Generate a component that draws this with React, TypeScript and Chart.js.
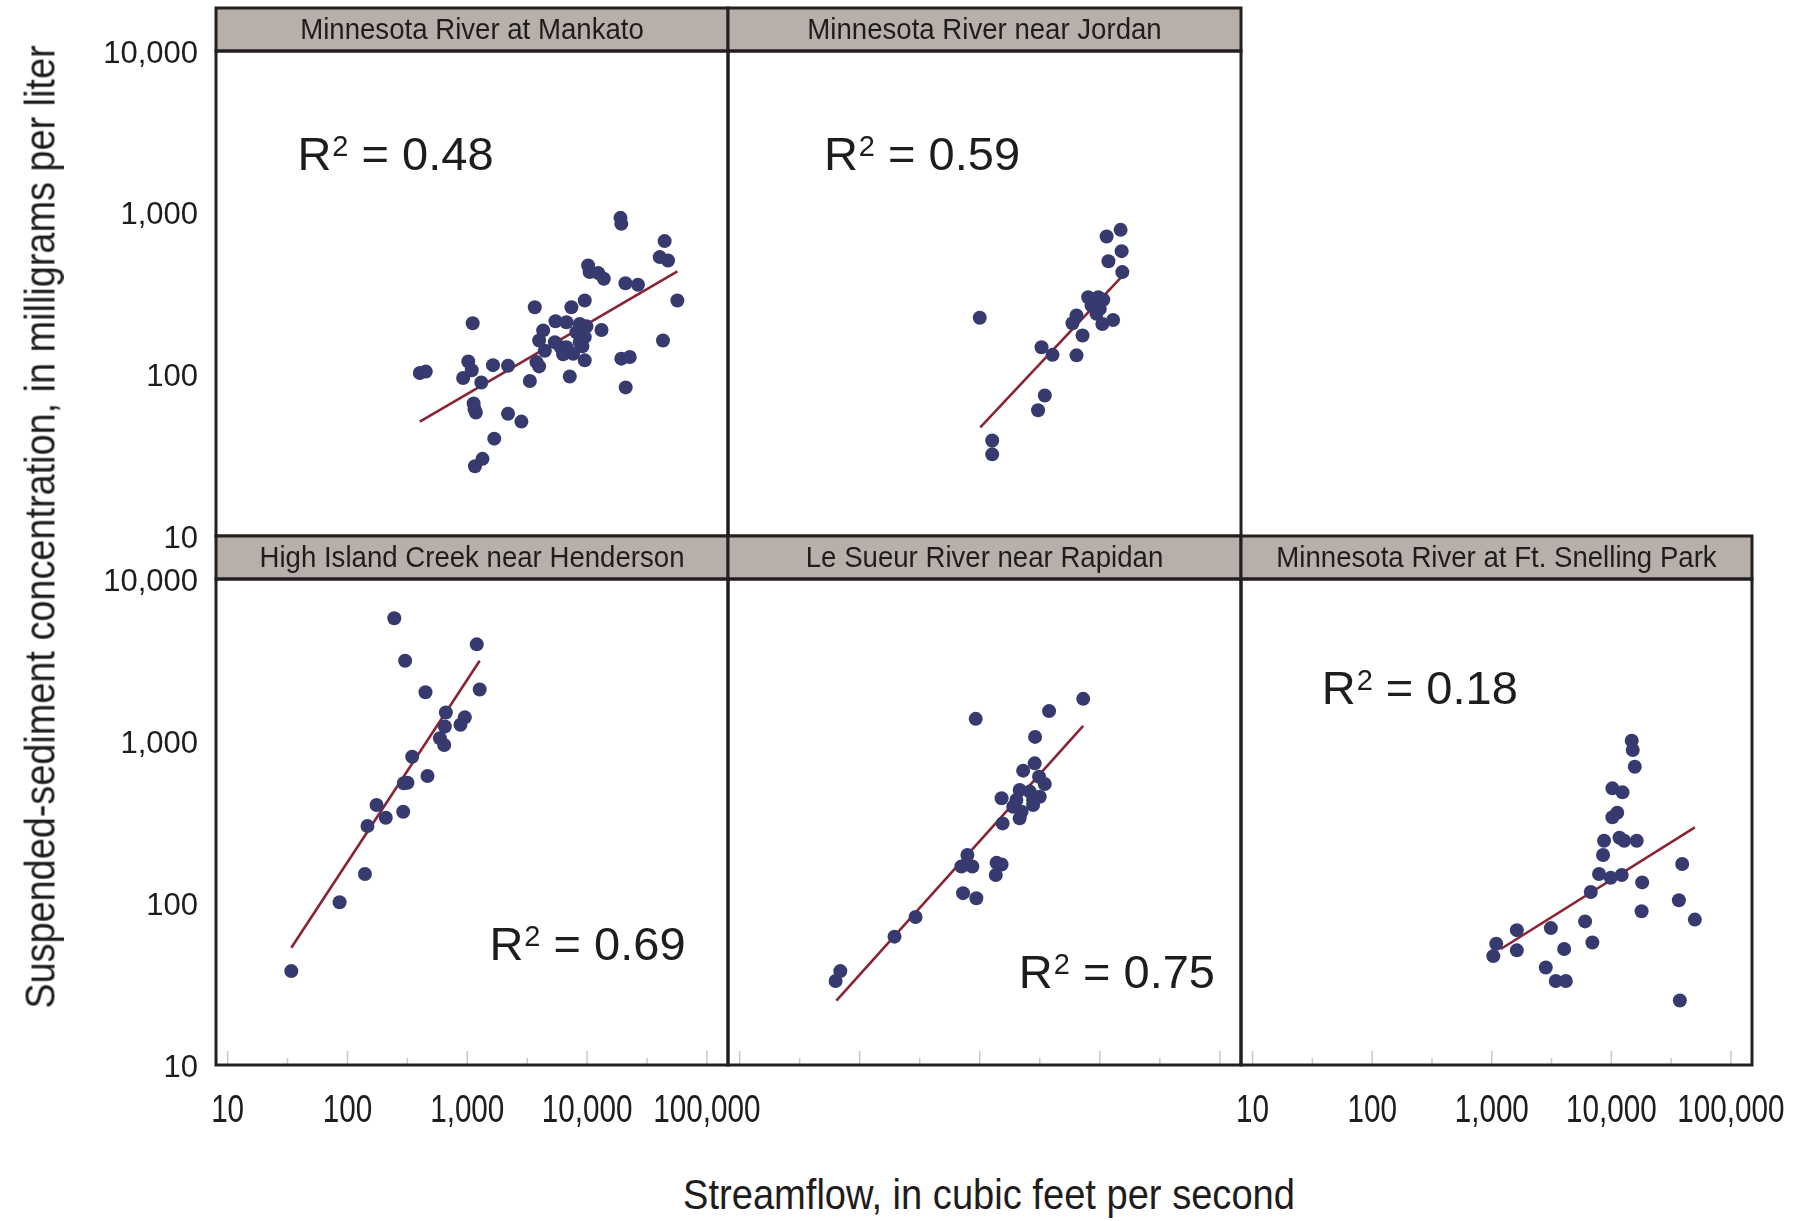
import React, { useEffect, useRef } from 'react';
import { Chart, registerables } from 'chart.js';

Chart.register(...registerables);

// ---------- axis ticks ----------
const Y_TICKS = [10, 100, 1000, 10000];
const X_TICKS = [10, 100, 1000, 10000, 100000];
const X_MIN = 8;
const X_MAX = 150000;
const Y_MIN = 10;
const Y_MAX = 10000;

// ---------- panel titles & R2 ----------
const PANEL_TITLES = [
  'Minnesota River at Mankato',
  'Minnesota River near Jordan',
  'High Island Creek near Henderson',
  'Le Sueur River near Rapidan',
  'Minnesota River at Ft. Snelling Park',
];
const R2_VALUES = ['0.48', '0.59', '0.69', '0.75', '0.18'];

// ---------- data: streamflow (cfs) and suspended-sediment concentration (mg/L) ----------
const MANKATO_FLOW = [19000, 19300, 44400, 40400, 47400, 10200, 10500, 12400, 13800, 20900, 26600, 56700, 3660, 9560, 7400, 1110, 5450, 6730, 8690, 9880, 13200, 8150, 4300, 3980, 4440, 5380, 6030, 6310, 7650, 9140, 9560, 9560, 6730, 8690, 43000, 19300, 22700, 402, 451, 1020, 1090, 924, 1310, 1640, 2190, 3780, 3980, 3330, 7170, 21000, 1130, 1180, 1150, 2190, 2830, 1680, 1160, 1340];
const MANKATO_SSC = [929, 853, 667, 531, 506, 471, 429, 423, 390, 366, 358, 286, 260, 286, 260, 207, 213, 210, 205, 198, 188, 182, 187, 162, 140, 158, 147, 133, 134, 149, 170, 122, 147, 158, 162, 125, 128, 102, 104, 120, 106, 95, 89, 114, 113, 119, 112, 91, 97, 83, 66, 58, 61, 57, 51, 40, 27, 30];
const MANKATO_FIT_FLOW = [402, 56700];
const MANKATO_FIT_SSC = [51, 433];

const JORDAN_FLOW = [1000, 11400, 14900, 15200, 11800, 15400, 8000, 9700, 10700, 8530, 10000, 9390, 6400, 5920, 10500, 12900, 7180, 3270, 4040, 6400, 3480, 3060, 1270, 1270];
const JORDAN_SSC = [224, 712, 783, 578, 501, 429, 300, 300, 289, 267, 254, 237, 231, 207, 205, 217, 174, 147, 132, 131, 74, 60, 39, 32];
const JORDAN_FIT_FLOW = [1010, 14900];
const JORDAN_FIT_SSC = [47, 395];

const HIGHISLAND_FLOW = [246, 1200, 303, 448, 1270, 663, 954, 878, 650, 591, 642, 347, 466, 296, 317, 292, 175, 209, 147, 140, 86, 34];
const HIGHISLAND_SSC = [5720, 3950, 3130, 2000, 2080, 1500, 1400, 1260, 1230, 1040, 945, 800, 608, 548, 553, 366, 403, 336, 299, 151, 101, 38];
const HIGHISLAND_FIT_FLOW = [34, 1270];
const HIGHISLAND_FIT_SSC = [53, 3130];

const LESUEUR_FLOW = [7270, 3780, 925, 2890, 2870, 2300, 3120, 3480, 2150, 2610, 3160, 1520, 2020, 2780, 1900, 2230, 2780, 2150, 1550, 789, 703, 868, 1380, 1520, 1360, 726, 937, 292, 195, 69, 63];
const LESUEUR_SSC = [1820, 1530, 1370, 1060, 728, 656, 602, 543, 498, 487, 453, 443, 432, 403, 393, 366, 432, 333, 310, 198, 168, 168, 177, 173, 149, 115, 107, 82, 62, 38, 33];
const LESUEUR_FIT_FLOW = [64, 7270];
const LESUEUR_FIT_SSC = [25, 1240];

const SNELLING_FLOW = [14800, 15100, 15700, 10200, 12400, 11200, 10200, 8690, 11700, 12800, 16300, 8520, 39100, 7890, 9880, 12200, 18100, 6730, 36700, 17900, 49900, 6030, 6940, 1620, 3120, 1090, 1030, 1620, 4030, 2830, 3430, 4160, 37400];
const SNELLING_SSC = [1005, 880, 694, 510, 482, 361, 338, 242, 253, 242, 242, 198, 174, 151, 143, 149, 134, 117, 104, 89, 79, 77, 57, 68, 70, 56, 47, 51, 52, 40, 33, 33, 25];
const SNELLING_FIT_FLOW = [1190, 49900];
const SNELLING_FIT_SSC = [52, 293];

const AXIS_Y_TITLE = 'Suspended-sediment concentration, in milligrams per liter';
const AXIS_X_TITLE = 'Streamflow, in cubic feet per second';

// ---------- styles ----------
const POINT_COLOR = '#363a6e';
const FIT_COLOR = '#8a2433';
const STRIP_COLOR = '#b8afab';
const FRAME_COLOR = '#231f20';
const TEXT_COLOR = '#1f1c1d';
const SANS = "'Liberation Sans', Arial, sans-serif";
const STRIP_H = 43;
const TOP_M = 6;
const TITLE_SIZE = 30;
const TITLE_SX = 0.92;
const XTICK_SIZE = 38;
const XTICK_SX = 0.78;
const XTICK_OFFSET = 47;
const R2_SIZE = 47;

// ---------- layout (canvas boxes in page pixels) ----------
const LAYOUT = [
  { left: 0, top: 8 - TOP_M, width: 738, height: 528 + TOP_M + 20, pad: { left: 0, top: STRIP_H + TOP_M, right: 10, bottom: 20 }, showY: true, showX: false, r2Pos: [0.159, 0.21], bottomTicks: false },
  { left: 718, top: 8 - TOP_M, width: 533, height: 528 + TOP_M + 10, pad: { left: 10, top: STRIP_H + TOP_M, right: 10, bottom: 10 }, showY: false, showX: false, r2Pos: [0.187, 0.21], bottomTicks: false },
  { left: 0, top: 536 - TOP_M, width: 790, height: 529 + TOP_M + 100, pad: { left: 0, top: STRIP_H + TOP_M, right: 62, bottom: 100 }, showY: true, showX: true, r2Pos: [0.534, 0.75], bottomTicks: true },
  { left: 718, top: 536 - TOP_M, width: 533, height: 529 + TOP_M + 10, pad: { left: 10, top: STRIP_H + TOP_M, right: 10, bottom: 10 }, showY: false, showX: false, r2Pos: [0.567, 0.807], bottomTicks: true },
  { left: 1211, top: 536 - TOP_M, width: 591, height: 529 + TOP_M + 100, pad: { left: 30, top: STRIP_H + TOP_M, right: 50, bottom: 100 }, showY: false, showX: true, r2Pos: [0.158, 0.223], bottomTicks: true },
];

const SERIES = [
  { flow: MANKATO_FLOW, ssc: MANKATO_SSC, fitFlow: MANKATO_FIT_FLOW, fitSsc: MANKATO_FIT_SSC },
  { flow: JORDAN_FLOW, ssc: JORDAN_SSC, fitFlow: JORDAN_FIT_FLOW, fitSsc: JORDAN_FIT_SSC },
  { flow: HIGHISLAND_FLOW, ssc: HIGHISLAND_SSC, fitFlow: HIGHISLAND_FIT_FLOW, fitSsc: HIGHISLAND_FIT_SSC },
  { flow: LESUEUR_FLOW, ssc: LESUEUR_SSC, fitFlow: LESUEUR_FIT_FLOW, fitSsc: LESUEUR_FIT_SSC },
  { flow: SNELLING_FLOW, ssc: SNELLING_SSC, fitFlow: SNELLING_FIT_FLOW, fitSsc: SNELLING_FIT_SSC },
];

const fmt = (v: number) => Number(v).toLocaleString('en-US');

function scaledText(ctx: CanvasRenderingContext2D, text: string, x: number, y: number, sx: number) {
  ctx.save();
  ctx.translate(x, y);
  ctx.scale(sx, 1);
  ctx.fillText(text, 0, 0);
  ctx.restore();
}

const panelDecor = {
  id: 'panelDecor',
  beforeDatasetsDraw(chart: any, _args: any, opts: any) {
    if (!opts.bottomTicks) return;
    const { ctx, chartArea: a, scales } = chart;
    const xs = scales.x;
    ctx.save();
    ctx.strokeStyle = '#c8c8c8';
    ctx.lineWidth = 1.5;
    for (let k = 1; k <= 5; k++) {
      const marks: [number, number][] = [[Math.pow(10, k), 14], [Math.pow(10, k + 0.5), 7]];
      for (const [v, len] of marks) {
        if (v < X_MIN || v > X_MAX) continue;
        const px = xs.getPixelForValue(v);
        ctx.beginPath();
        ctx.moveTo(px, a.bottom);
        ctx.lineTo(px, a.bottom - len);
        ctx.stroke();
      }
    }
    ctx.restore();
  },
  afterDraw(chart: any, _args: any, opts: any) {
    const { ctx, chartArea: a, scales } = chart;
    const w = a.right - a.left;
    ctx.save();
    ctx.fillStyle = STRIP_COLOR;
    ctx.fillRect(a.left, a.top - STRIP_H, w, STRIP_H);
    ctx.lineWidth = 3;
    ctx.strokeStyle = FRAME_COLOR;
    ctx.strokeRect(a.left, a.top - STRIP_H, w, STRIP_H);
    ctx.strokeRect(a.left, a.top, w, a.bottom - a.top);

    // panel title (condensed)
    ctx.fillStyle = TEXT_COLOR;
    ctx.font = `${TITLE_SIZE}px ${SANS}`;
    ctx.textAlign = 'center';
    ctx.textBaseline = 'middle';
    scaledText(ctx, opts.title, (a.left + a.right) / 2, a.top - STRIP_H / 2 + 1, TITLE_SX);

    // x tick labels (condensed), positioned by the log scale
    if (opts.showX) {
      ctx.font = `${XTICK_SIZE}px ${SANS}`;
      for (const v of X_TICKS) {
        const px = scales.x.getPixelForValue(v);
        scaledText(ctx, fmt(v), px, a.bottom + XTICK_OFFSET, XTICK_SX);
      }
    }

    // R-squared label
    const x0 = a.left + opts.r2Pos[0] * w;
    const yc = a.top + opts.r2Pos[1] * (a.bottom - a.top);
    const base = yc + (R2_SIZE * 0.716) / 2;
    ctx.textAlign = 'left';
    ctx.textBaseline = 'alphabetic';
    ctx.font = `${R2_SIZE}px ${SANS}`;
    ctx.fillText('R', x0, base);
    const wR = ctx.measureText('R').width;
    ctx.font = `${Math.round(R2_SIZE * 0.62)}px ${SANS}`;
    ctx.fillText('2', x0 + wR + 1, base - R2_SIZE * 0.716 * 0.42);
    const w2 = ctx.measureText('2').width;
    ctx.font = `${R2_SIZE}px ${SANS}`;
    ctx.fillText(' = ' + opts.r2, x0 + wR + 1 + w2, base);
    ctx.restore();
  },
};

function Panel({ index }: { index: number }) {
  const ref = useRef<HTMLCanvasElement | null>(null);
  const lay = LAYOUT[index];
  const s = SERIES[index];

  useEffect(() => {
    if (!ref.current) return;
    const points = s.flow.map((x, i) => ({ x, y: s.ssc[i] }));
    const fit = s.fitFlow.map((x, i) => ({ x, y: s.fitSsc[i] }));
    const yScale: any = {
      type: 'logarithmic',
      min: Y_MIN,
      max: Y_MAX,
      display: lay.showY,
      grid: { display: false, drawTicks: false },
      border: { display: false },
      afterBuildTicks: (sc: any) => {
        sc.ticks = Y_TICKS.map((v) => ({ value: v }));
      },
      ticks: {
        autoSkip: false,
        padding: 18,
        labelOffset: 3,
        color: TEXT_COLOR,
        font: { family: SANS, size: 31 },
        callback: (v: any) => fmt(v),
      },
    };
    if (lay.showY) {
      yScale.afterFit = (sc: any) => {
        sc.width = 216;
        sc.paddingTop = 0;
        sc.paddingBottom = 0;
      };
    }
    const chart = new Chart(ref.current, {
      type: 'scatter',
      data: {
        datasets: [
          {
            data: points,
            backgroundColor: POINT_COLOR,
            borderColor: POINT_COLOR,
            borderWidth: 0,
            pointRadius: 7,
            order: 0,
          },
          {
            data: fit,
            showLine: true,
            borderColor: FIT_COLOR,
            borderWidth: 2.6,
            pointRadius: 0,
            fill: false,
            order: 1,
          },
        ],
      },
      options: {
        responsive: false,
        animation: false,
        events: [],
        devicePixelRatio: 1,
        layout: { padding: lay.pad },
        plugins: {
          legend: { display: false },
          tooltip: { enabled: false },
          title: { display: false },
          panelDecor: { title: PANEL_TITLES[index], r2: R2_VALUES[index], r2Pos: lay.r2Pos, bottomTicks: lay.bottomTicks, showX: lay.showX },
        } as any,
        scales: {
          x: {
            type: 'logarithmic',
            min: X_MIN,
            max: X_MAX,
            display: false,
            afterBuildTicks: (sc: any) => {
              sc.ticks = X_TICKS.map((v) => ({ value: v }));
            },
          },
          y: yScale,
        },
      } as any,
      plugins: [panelDecor as any],
    });
    return () => chart.destroy();
  }, [index]);

  return (
    <canvas
      ref={ref}
      width={lay.width}
      height={lay.height}
      style={{ position: 'absolute', left: lay.left, top: lay.top, width: lay.width, height: lay.height }}
    />
  );
}

export default function App() {
  return (
    <div style={{ position: 'absolute', left: 0, top: 0, width: 1802, height: 1221, background: '#ffffff', overflow: 'hidden' }}>
      {PANEL_TITLES.map((_, i) => (
        <Panel key={i} index={i} />
      ))}
      <div
        style={{
          position: 'absolute',
          left: 40,
          top: 527,
          transform: 'translate(-50%, -50%) rotate(-90deg) scaleX(0.88)',
          whiteSpace: 'nowrap',
          fontFamily: SANS,
          fontSize: 43,
          lineHeight: 1,
          color: TEXT_COLOR,
        }}
      >
        {AXIS_Y_TITLE}
      </div>
      <div
        style={{
          position: 'absolute',
          left: 989,
          top: 1195,
          transform: 'translate(-50%, -50%) scaleX(0.907)',
          whiteSpace: 'nowrap',
          fontFamily: SANS,
          fontSize: 42,
          lineHeight: 1,
          color: TEXT_COLOR,
        }}
      >
        {AXIS_X_TITLE}
      </div>
    </div>
  );
}
